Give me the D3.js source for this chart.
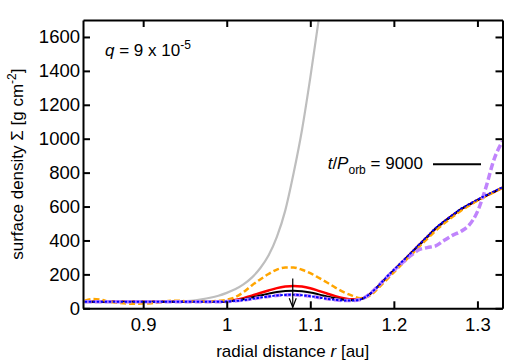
<!DOCTYPE html>
<html>
<head>
<meta charset="utf-8">
<script src="https://cdn.jsdelivr.net/npm/d3@7"></script>
<style>
  body { margin: 0; background: #fff; }
  svg { display: block; font-family: "Liberation Sans", Arial, Helvetica, sans-serif; }
</style>
</head>
<body>
<svg id="chart" width="532" height="363"></svg>
<script>
// radial grid shared by the simulated profiles (au)
var rGrid = [0.83, 0.84, 0.85, 0.86, 0.87, 0.88, 0.89, 0.90, 0.91, 0.92,
    0.93, 0.94, 0.95, 0.96, 0.97, 0.98, 0.99, 1.00, 1.01, 1.02,
    1.03, 1.04, 1.05, 1.06, 1.07, 1.08, 1.09, 1.10, 1.11, 1.12,
    1.13, 1.14, 1.15, 1.16, 1.17, 1.18, 1.19, 1.20, 1.21, 1.22,
    1.23, 1.24, 1.25, 1.26, 1.27, 1.28, 1.29, 1.30, 1.31, 1.32, 1.33];

var sigmaRed = [38, 38, 38, 38, 38, 38, 38, 38, 38, 38,
    38, 38, 38, 38, 38, 38, 39, 42, 49, 60,
    74, 90, 105, 119, 128, 132, 128, 118, 103, 87,
    72, 60, 53, 55, 78, 124, 174, 224, 273, 322,
    372, 421, 470, 510, 547, 583, 611, 638, 663, 687, 711];

var sigmaBlack = [38, 38, 38, 38, 38, 38, 38, 38, 38, 38,
    38, 38, 38, 38, 38, 38, 38, 41, 46, 54,
    64, 75, 86, 96, 102, 104, 101, 93, 82, 70,
    59, 51, 48, 53, 78, 124, 174, 224, 273, 322,
    372, 421, 470, 510, 547, 583, 611, 638, 663, 687, 711];

var sigmaOrange = [45, 55, 50, 38, 32, 28, 27, 28, 30, 35,
    43, 45, 42, 40, 40, 41, 44, 50, 65, 95,
    135, 170, 202, 228, 240, 240, 227, 207, 180, 152,
    122, 95, 75, 60, 72, 112, 162, 212, 262, 312,
    362, 410, 458, 500, 538, 574, 605, 634, 660, 685, 710];

var sigmaPurple = [38, 38, 38, 38, 38, 38, 38, 38, 38, 38,
    38, 38, 38, 38, 38, 38, 38, 40, 43, 48,
    55, 63, 70, 76, 79, 80, 77, 71, 64, 56,
    50, 46, 46, 52, 80, 125, 176, 224, 268, 310,
    345, 358, 368, 400, 430, 453, 490, 570, 710, 880, 985];

var sigmaBlue = [38, 38, 38, 38, 38, 38, 38, 38, 38, 38,
    38, 38, 38, 38, 38, 38, 38, 40, 43, 48,
    55, 63, 70, 76, 79, 80, 77, 71, 64, 56,
    50, 46, 46, 52, 80, 125, 178, 227, 276, 325,
    375, 424, 473, 513, 550, 586, 614, 641, 666, 690, 714];

// unperturbed (initial) profile
var rInit = [0.83, 0.88, 0.92, 0.94, 0.95, 0.96, 0.97, 0.98, 0.99, 1.00,
    1.01, 1.02, 1.03, 1.04, 1.05, 1.06, 1.07, 1.08, 1.09, 1.10, 1.11, 1.12];
var sigmaInit = [36, 36, 37, 39, 42, 46, 53, 62, 74, 91,
    112, 141, 181, 236, 311, 421, 576, 796, 1050, 1360, 1700, 2040];

var xTicks = [0.9, 1.0, 1.1, 1.2, 1.3];
var yTicks = [0, 200, 400, 600, 800, 1000, 1200, 1400, 1600];
var planetR = 1.079;
var arrowTop = 175;

var width = 532, height = 363;
var margin = {top: 20, right: 29.5, bottom: 54.7, left: 83};
var svg = d3.select("#chart");

var x = d3.scaleLinear().domain([0.828, 1.33]).range([margin.left, width - margin.right]);
var y = d3.scaleLinear().domain([0, 1700]).range([height - margin.bottom, margin.top]);

svg.append("clipPath").attr("id", "plotclip")
    .append("rect")
    .attr("x", x.range()[0]).attr("y", y.range()[1])
    .attr("width", x.range()[1] - x.range()[0])
    .attr("height", y.range()[0] - y.range()[1]);

var line = d3.line()
    .x(function(d) { return x(d[0]); })
    .y(function(d) { return y(d[1]); })
    .curve(d3.curveMonotoneX);

var plot = svg.append("g").attr("clip-path", "url(#plotclip)");

function zipR(rs, vs) {
    return rs.map(function(r, i) { return [r, vs[i]]; });
}

var series = [
    {data: zipR(rInit, sigmaInit), color: "#bebebe", width: 2.2, dash: null},
    {data: zipR(rGrid, sigmaRed), color: "#ff0000", width: 2.5, dash: null},
    {data: zipR(rGrid, sigmaBlack), color: "#000000", width: 2, dash: null},
    {data: zipR(rGrid, sigmaOrange), color: "#ffa500", width: 2.5, dash: "6,3"},
    {data: zipR(rGrid, sigmaPurple), color: "#c084fc", width: 3.5, dash: "7,3"},
    {data: zipR(rGrid, sigmaBlue), color: "#0000ff", width: 2, dash: "2.5,1.5"}
];

plot.selectAll("path.series")
    .data(series)
    .enter()
    .append("path")
    .attr("class", "series")
    .attr("d", function(d) { return line(d.data); })
    .attr("fill", "none")
    .attr("stroke", function(d) { return d.color; })
    .attr("stroke-width", function(d) { return d.width; })
    .attr("stroke-dasharray", function(d) { return d.dash; });

// planet position arrow
var ax = x(planetR);
svg.append("line")
    .attr("x1", ax).attr("x2", ax)
    .attr("y1", y(arrowTop)).attr("y2", y(0) - 1)
    .attr("stroke", "#000").attr("stroke-width", 1.2);
svg.append("path")
    .attr("d", "M" + (ax - 3.5) + "," + (y(0) - 10) + " L" + ax + "," + (y(0) - 1) +
        " L" + (ax + 3.5) + "," + (y(0) - 10))
    .attr("fill", "none").attr("stroke", "#000").attr("stroke-width", 1.2);

// axes
var tickLen = 7;
function styleAxis(g) {
    g.selectAll("path.domain").attr("stroke", "#000").attr("stroke-width", 2);
    g.selectAll(".tick line").attr("stroke", "#000").attr("stroke-width", 2);
    g.selectAll(".tick text").attr("fill", "#000").attr("font-size", "18.5px")
        .attr("font-family", "'Liberation Sans', Arial, Helvetica, sans-serif");
}

svg.append("g")
    .attr("transform", "translate(0," + y.range()[0] + ")")
    .call(d3.axisBottom(x).tickValues(xTicks).tickFormat(d3.format("")).tickSizeInner(-tickLen).tickSizeOuter(0).tickPadding(10))
    .call(styleAxis);
svg.append("g")
    .attr("transform", "translate(0," + y.range()[1] + ")")
    .call(d3.axisTop(x).tickValues(xTicks).tickFormat("").tickSizeInner(-tickLen).tickSizeOuter(0))
    .call(styleAxis);
svg.append("g")
    .attr("transform", "translate(" + x.range()[0] + ",0)")
    .call(d3.axisLeft(y).tickValues(yTicks).tickFormat(d3.format("d")).tickSizeInner(-tickLen).tickSizeOuter(0).tickPadding(3))
    .call(styleAxis);
svg.append("g")
    .attr("transform", "translate(" + x.range()[1] + ",0)")
    .call(d3.axisRight(y).tickValues(yTicks).tickFormat("").tickSizeInner(-tickLen).tickSizeOuter(0))
    .call(styleAxis);

// axis labels
var xl = svg.append("text")
    .attr("x", (x.range()[0] + x.range()[1]) / 2).attr("y", 357)
    .attr("text-anchor", "middle").attr("font-size", "17px");
xl.append("tspan").text("radial distance ");
xl.append("tspan").attr("font-style", "italic").text("r");
xl.append("tspan").text(" [au]");

var yl = svg.append("text")
    .attr("transform", "translate(23," + ((y.range()[0] + y.range()[1]) / 2) + ") rotate(-90)")
    .attr("text-anchor", "middle").attr("font-size", "17px");
yl.append("tspan").text("surface density \u03A3 [g cm");
yl.append("tspan").attr("font-size", "12px").attr("dy", -7).text("-2");
yl.append("tspan").attr("dy", 7).text("]");

// mass ratio annotation
var qt = svg.append("text").attr("x", 105).attr("y", 56).attr("font-size", "17px");
qt.append("tspan").attr("font-style", "italic").text("q");
qt.append("tspan").text(" = 9 x 10");
qt.append("tspan").attr("font-size", "12px").attr("dy", -7).text("-5");

// time key
var kt = svg.append("text").attr("x", 423).attr("y", 169)
    .attr("text-anchor", "end").attr("font-size", "17px");
kt.append("tspan").attr("font-style", "italic").text("t");
kt.append("tspan").text("/");
kt.append("tspan").attr("font-style", "italic").text("P");
kt.append("tspan").attr("font-size", "12px").attr("dy", 5).text("orb");
kt.append("tspan").attr("dy", -5).text(" = 9000");
svg.append("line")
    .attr("x1", 433).attr("x2", 481).attr("y1", 164.3).attr("y2", 164.3)
    .attr("stroke", "#000").attr("stroke-width", 2);
</script>
</body>
</html>
